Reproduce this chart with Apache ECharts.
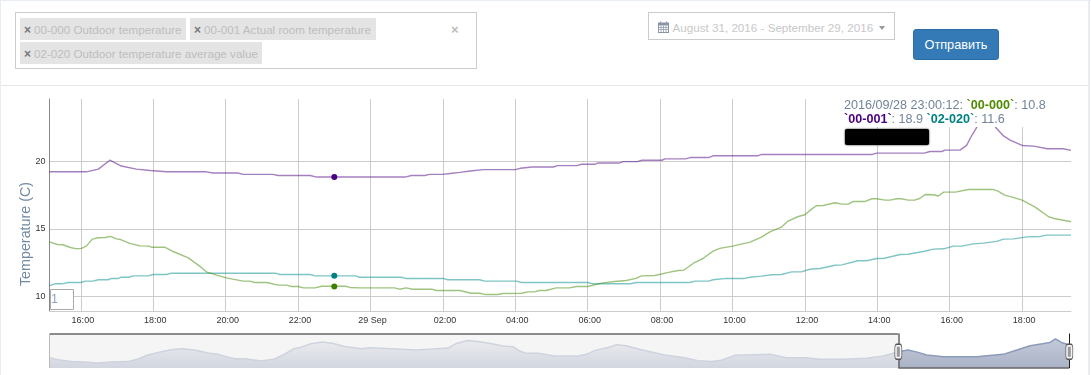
<!DOCTYPE html>
<html>
<head>
<meta charset="utf-8">
<title>Temperature</title>
<script src="https://cdn.jsdelivr.net/npm/echarts@6/dist/echarts.min.js"></script>
<style>
  html, body { margin: 0; padding: 0; background: #fff; }
  body { width: 1091px; height: 375px; overflow: hidden; position: relative; font-family: "Liberation Sans", Arial, sans-serif; }
  #chart { position: absolute; left: 0; top: 0; width: 1091px; height: 375px; }
  .frame { position: absolute; background: #e8ecf3; }
  .box { position: absolute; box-sizing: border-box; border: 1px solid #ccc; background: #fff; }
  .chip { position: absolute; height: 22px; line-height: 24px; background: #e4e4e4; color: #bdbdbd; font-size: 11.65px; padding-left: 14px; box-sizing: border-box; white-space: nowrap; }
  .chip b { position: absolute; left: 4px; top: 0; color: #777; font-size: 12px; }
  #clear { position: absolute; left: 451px; top: 22px; color: #bbb; font-size: 13px; font-weight: bold; }
  #range { position: absolute; left: 672.5px; top: 20px; color: #c8c8c8; font-size: 11.65px; line-height: 15px; white-space: nowrap; }
  #calendar { position: absolute; left: 658px; top: 21px; }
  #caret { position: absolute; left: 879px; top: 26px; width: 0; height: 0; border: 3.5px solid transparent; border-top: 4px solid #999; border-bottom: 0; }
  #send { position: absolute; left: 913px; top: 29px; width: 86px; height: 31px; box-sizing: border-box; background: #337ab7; border: 1px solid #2e6da4; border-radius: 3px; color: #fff; font: 12.7px "Liberation Sans", Arial, sans-serif; padding: 0; }
</style>
</head>
<body>
<div id="chart"></div>

<div class="frame" style="left:0;top:0;width:1091px;height:1px"></div>
<div class="frame" style="left:0;top:0;width:1px;height:375px"></div>
<div class="frame" style="left:1088px;top:0;width:2px;height:375px"></div>
<div class="frame" style="left:1px;top:85px;width:1087px;height:1px;background:#e7e7e7"></div>

<div class="box" style="left:15px;top:12px;width:462px;height:57px"></div>
<div class="chip" style="left:20px;top:18px;width:166px"><b>×</b>00-000 Outdoor temperature</div>
<div class="chip" style="left:190px;top:18px;width:186px"><b>×</b>00-001 Actual room temperature</div>
<div class="chip" style="left:20px;top:42px;width:242px"><b>×</b>02-020 Outdoor temperature average value</div>
<div id="clear">×</div>

<div class="box" style="left:648px;top:12px;width:247px;height:28px"></div>
<svg id="calendar" width="11" height="12" viewBox="0 0 11 12">
  <rect x="0.5" y="2" width="10" height="9.5" fill="none" stroke="#8a96a8"/>
  <rect x="0.5" y="2" width="10" height="2.5" fill="#8a96a8"/>
  <path d="M0.5 6.5h10M0.5 8.5h10M3 4.5v7M5.5 4.5v7M8 4.5v7" stroke="#8a96a8" stroke-width="0.7"/>
  <path d="M2.5 0.5v2M8.5 0.5v2" stroke="#8a96a8"/>
</svg>
<div id="range">August 31, 2016 - September 29, 2016</div>
<div id="caret"></div>
<button id="send">Отправить</button>

<script>
// main chart values: [day + time, temperature]
const roomTemp = [
  ["28T15:08",19.24],["28T16:09",19.24],["28T16:29",19.44],["28T16:48",20.1],["28T17:07",19.67],["28T17:32",19.44],
  ["28T17:55",19.34],["28T18:22",19.24],["28T19:28",19.24],["28T19:39",19.15],["28T20:20",19.15],["28T20:29",19.05],
  ["28T21:18",19.05],["28T21:27",18.97],["28T22:20",18.97],["28T22:31",18.85],["29T00:57",18.85],["29T01:08",18.97],
  ["29T01:30",18.97],["29T01:38",19.05],["29T02:00",19.05],["29T02:12",19.12],["29T02:28",19.2],["29T02:45",19.3],
  ["29T03:07",19.4],["29T04:00",19.4],["29T04:08",19.5],["29T04:28",19.6],["29T05:03",19.6],["29T05:10",19.7],
  ["29T05:42",19.7],["29T05:50",19.8],["29T06:12",19.8],["29T06:17",19.9],["29T06:53",19.9],["29T06:59",20.0],
  ["29T07:22",20.0],["29T07:30",20.1],["29T08:03",20.1],["29T08:08",20.2],["29T08:42",20.2],["29T08:50",20.3],
  ["29T09:20",20.3],["29T09:28",20.43],["29T10:42",20.43],["29T10:48",20.53],["29T13:52",20.53],["29T13:59",20.63],
  ["29T15:18",20.63],["29T15:27",20.75],["29T15:47",20.75],["29T15:52",20.85],["29T16:17",20.85],["29T16:28",21.2],
  ["29T16:36",21.9],["29T16:45",22.56],["29T17:00",23.8],["29T17:17",22.49],["29T17:28",21.95],["29T17:40",21.6],
  ["29T18:00",21.2],["29T18:19",21.15],["29T18:42",20.95],["29T19:08",20.95],["29T19:21",20.83]
];
const outdoorTemp = [
  ["28T15:08",14.04],["28T15:21",13.84],["28T15:30",13.82],["28T15:43",13.62],["28T15:53",13.52],["28T16:01",13.55],
  ["28T16:09",13.72],["28T16:19",14.24],["28T16:29",14.34],["28T16:40",14.36],["28T16:49",14.44],["28T16:59",14.26],
  ["28T17:07",14.19],["28T17:21",13.92],["28T17:38",13.74],["28T17:52",13.72],["28T17:57",13.64],["28T18:19",13.64],
  ["28T18:33",13.32],["28T18:58",12.85],["28T19:17",12.23],["28T19:28",11.81],["28T19:45",11.56],["28T20:01",11.36],
  ["28T20:29",11.12],["28T20:40",11.12],["28T20:48",11.02],["28T21:08",11.02],["28T21:27",10.82],["28T21:41",10.82],
  ["28T21:49",10.72],["28T22:00",10.72],["28T22:09",10.62],["28T22:28",10.62],["28T22:39",10.74],["28T23:18",10.74],
  ["28T23:26",10.65],["28T23:42",10.62],["29T00:40",10.62],["29T00:48",10.52],["29T00:59",10.62],["29T01:10",10.52],
  ["29T01:41",10.52],["29T01:49",10.42],["29T02:28",10.42],["29T02:47",10.22],["29T03:01",10.22],["29T03:09",10.13],
  ["29T03:31",10.13],["29T03:39",10.2],["29T04:10",10.22],["29T04:21",10.32],["29T04:32",10.32],["29T04:40",10.42],
  ["29T04:51",10.42],["29T05:08",10.62],["29T05:30",10.62],["29T05:41",10.72],["29T06:00",10.72],["29T06:25",10.99],
  ["29T06:45",11.09],["29T07:04",11.17],["29T07:20",11.32],["29T07:29",11.51],["29T07:51",11.54],["29T08:16",11.79],
  ["29T08:30",11.91],["29T08:39",11.93],["29T08:57",12.5],["29T09:11",12.8],["29T09:28",13.35],["29T09:39",13.55],
  ["29T10:00",13.72],["29T10:29",14.02],["29T10:48",14.39],["29T11:02",14.78],["29T11:21",15.13],["29T11:32",15.58],
  ["29T11:49",15.92],["29T12:00",16.05],["29T12:11",16.47],["29T12:19",16.72],["29T12:30",16.74],["29T12:50",16.94],
  ["29T13:01",16.84],["29T13:12",16.84],["29T13:20",17.04],["29T13:40",17.04],["29T13:51",17.24],["29T13:59",17.24],
  ["29T14:13",17.14],["29T14:21",17.14],["29T14:32",17.24],["29T14:40",17.24],["29T14:51",17.14],["29T15:02",17.14],
  ["29T15:10",17.26],["29T15:20",17.56],["29T15:33",17.54],["29T15:41",17.44],["29T15:50",17.73],["29T16:09",17.73],
  ["29T16:31",17.93],["29T17:12",17.93],["29T17:20",17.81],["29T17:31",17.51],["29T17:45",17.34],["29T18:00",17.14],
  ["29T18:21",16.64],["29T18:44",15.9],["29T18:55",15.75],["29T19:21",15.53]
];
const averageTemp = [
  ["28T15:08",10.79],["28T15:17",10.92],["28T15:29",10.92],["28T15:39",11.02],["28T16:00",11.02],["28T16:07",11.12],
  ["28T16:20",11.12],["28T16:29",11.22],["28T16:45",11.22],["28T16:51",11.32],["28T17:02",11.32],["28T17:07",11.41],
  ["28T17:19",11.41],["28T17:27",11.51],["28T17:52",11.51],["28T18:00",11.61],["28T18:22",11.61],["28T18:30",11.71],
  ["28T21:22",11.71],["28T21:30",11.61],["28T22:20",11.61],["28T22:28",11.51],["28T23:35",11.51],["28T23:42",11.41],
  ["29T00:51",11.41],["29T00:59",11.32],["29T02:00",11.32],["29T02:08",11.22],["29T03:01",11.22],["29T03:09",11.12],
  ["29T04:02",11.12],["29T04:10",11.02],["29T06:00",11.02],["29T06:09",10.92],["29T07:10",10.92],["29T07:21",11.02],
  ["29T08:49",11.02],["29T08:58",11.12],["29T09:20",11.12],["29T09:28",11.22],["29T09:50",11.32],["29T10:20",11.32],
  ["29T10:29",11.41],["29T10:48",11.49],["29T11:05",11.59],["29T11:21",11.61],["29T11:38",11.81],["29T11:54",11.81],
  ["29T12:08",12.0],["29T12:25",12.06],["29T12:50",12.3],["29T13:01",12.33],["29T13:28",12.63],["29T13:42",12.63],
  ["29T13:59",12.8],["29T14:10",12.8],["29T14:38",13.1],["29T14:51",13.12],["29T15:16",13.32],["29T15:33",13.5],
  ["29T15:50",13.52],["29T16:06",13.72],["29T16:20",13.72],["29T16:39",13.89],["29T16:56",13.94],["29T17:18",14.07],
  ["29T17:29",14.24],["29T17:46",14.26],["29T18:08",14.41],["29T18:30",14.44],["29T18:41",14.54],["29T19:21",14.54]
];
// navigator: [hours from the start of its range, temperature]
const overview = [
  [0,18.61],[1.4,18.11],[3.6,17.61],[5.8,17.52],[8,17.28],[10.3,17.52],[13,17.61],[14.7,18.28],[16.3,19.28],[18.6,20.11],
  [20.5,20.69],[21.9,20.86],[24.1,20.53],[26.3,19.78],[28,19.44],[30.7,18.36],[32.4,18.36],[35.2,17.78],[37.4,18.28],
  [39.1,19.53],[40.7,20.94],[41.5,21.11],[43.2,22.03],[45.4,22.53],[47.1,22.19],[49,21.44],[51.8,20.86],[53.2,21.11],
  [56,20.94],[60.9,20.53],[63.7,20.78],[66.2,21.03],[67.6,22.19],[69.5,22.94],[71.5,22.61],[73.7,22.03],[75.3,21.53],
  [77,21.36],[78.1,20.28],[79.2,19.69],[81.4,19.69],[83.9,19.03],[87.8,19.03],[89.2,19.44],[90.6,20.44],[92.8,21.19],
  [94.2,21.86],[95.8,21.61],[98.3,20.61],[102.2,19.28],[105.5,18.61],[107.7,17.86],[110,17.61],[111.6,17.94],[113.8,19.19],
  [115.5,19.28],[119.9,19.44],[122.4,18.61],[125.5,18.61],[128,18.19],[131.8,18.19],[135.7,18.44],[138.5,19.03],[141,20.11],
  [142.6,20.53],[144.3,19.94],[145.7,19.28],[148.5,18.86],[154,18.86],[158.4,19.44],[160.7,20.53],[162.9,21.61],
  [166.2,22.44],[167.1,23.36],[168.1,22.44],[169.4,21.78]
];
const timeTicks = [
  "28T16:00","28T18:00","28T20:00","28T22:00","29T00:00","29T02:00","29T04:00",
  "29T06:00","29T08:00","29T10:00","29T12:00","29T14:00","29T16:00","29T18:00"
];
const tempTicks = [10, 15, 20];
const windowStart = 141;
const overviewEnd = 169.4;
const hoverTime = "28T23:00";
const hoverRoom = 18.85;
const hoverOutdoor = 10.72;
const hoverAverage = 11.52;

const ts = (s) => new Date("2016-09-" + s + ":00").getTime();
const toSeries = (rows) => rows.map((r) => [ts(r[0]), r[1]]);
const pad2 = (n) => String(n).padStart(2, "0");

function lineSeries(name, rows, color, markerColor, hoverValue) {
  return {
    name,
    type: "line",
    data: toSeries(rows),
    showSymbol: false,
    silent: true,
    lineStyle: { width: 1.4, color, opacity: 0.5 },
    markPoint: {
      symbol: "circle",
      symbolSize: 6,
      silent: true,
      itemStyle: { color: markerColor },
      label: { show: false },
      data: [{ coord: [ts(hoverTime), hoverValue] }],
    },
  };
}

function handle(hour) {
  return [
    { coord: [hour, 20.1], symbol: "roundRect", symbolSize: [7, 15], itemStyle: { color: "#f2f2f2", borderColor: "#555", borderWidth: 1 } },
    { coord: [hour, 20.1], symbol: "rect", symbolSize: [3, 10], itemStyle: { color: "#999" } },
  ];
}

const chart = echarts.init(document.getElementById("chart"), null, { renderer: "canvas" });
chart.setOption({
  animation: false,
  textStyle: { fontFamily: "Liberation Sans, Arial, sans-serif" },
  grid: [
    { left: 49.5, right: 20, top: 99, height: 212 },
    { left: 49.5, width: 1019.8, top: 333.5, height: 34.5 },
  ],
  xAxis: [
    {
      // plain value axis holding timestamps: time axes choke on custom tick lists
      type: "value",
      gridIndex: 0,
      min: ts("28T15:08"),
      max: ts("29T19:21"),
      axisLine: { lineStyle: { color: "#ccc" } },
      axisTick: { show: false, customValues: timeTicks.map(ts) },
      splitLine: { show: true, lineStyle: { color: "#ccc" } },
      axisLabel: {
        customValues: timeTicks.map(ts),
        color: "#333",
        fontSize: 9,
        margin: 5,
        padding: [0, 0, 0, 4],
        hideOverlap: false,
        formatter: (v) => {
          const d = new Date(v);
          return d.getHours() === 0 ? d.getDate() + " Sep" : pad2(d.getHours()) + ":" + pad2(d.getMinutes());
        },
      },
    },
    { type: "value", gridIndex: 1, min: 0, max: overviewEnd, show: false },
  ],
  yAxis: [
    {
      type: "value",
      gridIndex: 0,
      min: 8.9,
      max: 24.65,
      name: "Temperature (C)",
      nameLocation: "middle",
      nameGap: 16,
      nameMoveOverlap: false,
      nameTextStyle: { color: "#708aa5", fontSize: 14.3, padding: [0, 58, 0, 0] },
      axisLine: { show: true, lineStyle: { color: "#888" } },
      axisTick: { show: false, customValues: tempTicks },
      axisLabel: { customValues: tempTicks, color: "#333", fontSize: 9, margin: 4 },
      splitLine: { show: true, lineStyle: { color: "#ccc" } },
    },
    { type: "value", gridIndex: 1, min: 16, max: 24.7, show: false },
  ],
  series: [
    lineSeries("00-001", roomTemp, "#4b0082", "#4b0082", hoverRoom),
    lineSeries("02-020", averageTemp, "#008b8b", "#008080", hoverAverage),
    lineSeries("00-000", outdoorTemp, "#3d8a00", "#3d8000", hoverOutdoor),
    {
      type: "line",
      xAxisIndex: 1,
      yAxisIndex: 1,
      data: overview.filter((p) => p[0] <= windowStart),
      showSymbol: false,
      silent: true,
      lineStyle: { width: 1.5, color: "#ced3de" },
      areaStyle: {
        opacity: 1,
        color: new echarts.graphic.LinearGradient(0, 0, 0, 1, [
          { offset: 0, color: "#eaebef" },
          { offset: 1, color: "#d2d6df" },
        ]),
      },
      z: 2,
      markArea: {
        silent: true,
        itemStyle: { color: "#f5f5f5" },
        data: [[{ coord: [0, 16] }, { coord: [windowStart, 24.7] }]],
      },
      markLine: {
        silent: true,
        symbol: "none",
        label: { show: false },
        lineStyle: { color: "#666", type: "solid", width: 1.5 },
        data: [
          [{ coord: [0, 24.7] }, { coord: [windowStart, 24.7] }],
          [{ coord: [windowStart, 24.7] }, { coord: [windowStart, 16] }],
          [{ coord: [windowStart, 16] }, { coord: [overviewEnd, 16] }],
          [{ coord: [overviewEnd, 24.7], lineStyle: { color: "#222", width: 1 } }, { coord: [overviewEnd, 16] }],
          [{ coord: [0, 24.7], lineStyle: { color: "#bbb", width: 1 } }, { coord: [0, 16] }],
        ],
      },
    },
    {
      type: "line",
      xAxisIndex: 1,
      yAxisIndex: 1,
      data: overview.filter((p) => p[0] >= windowStart),
      showSymbol: false,
      silent: true,
      lineStyle: { width: 1.5, color: "#8c9bbb" },
      areaStyle: {
        opacity: 1,
        color: new echarts.graphic.LinearGradient(0, 0, 0, 1, [
          { offset: 0, color: "#c3cad9" },
          { offset: 1, color: "#aab2c6" },
        ]),
      },
      z: 3,
      markPoint: {
        silent: true,
        z: 10,
        label: { show: false },
        data: handle(windowStart).concat(handle(overviewEnd)),
      },
    },
  ],
  graphic: [
    { type: "rect", z: 100, shape: { x: 843, y: 98, width: 228, height: 29 }, style: { fill: "#fff" } },
    { type: "rect", z: 101, shape: { x: 845, y: 129, width: 84, height: 16, r: 2 }, style: { fill: "#000", shadowBlur: 2, shadowColor: "#000" } },
    {
      type: "text",
      z: 102,
      x: 844,
      y: 99,
      style: {
        text: "2016/09/28 23:00:12: {g|`00-000`}: 10.8\n{p|`00-001`}: 18.9 {t|`02-020`}: 11.6",
        fill: "#72849a",
        fontSize: 12.6,
        lineHeight: 14,
        fontFamily: "Liberation Sans, Arial, sans-serif",
        rich: {
          g: { fill: "#4f8a00", fontWeight: "bold", fontSize: 12.6, lineHeight: 14 },
          p: { fill: "#4b0082", fontWeight: "bold", fontSize: 12.6, lineHeight: 14 },
          t: { fill: "#008080", fontWeight: "bold", fontSize: 12.6, lineHeight: 14 },
        },
      },
    },
    { type: "rect", z: 100, shape: { x: 50.5, y: 289.5, width: 23, height: 20 }, style: { fill: "#fff", stroke: "#aaa" } },
    { type: "text", z: 101, x: 51, y: 293, style: { text: "1", fill: "#8ba5c5", fontSize: 12.6, fontFamily: "Liberation Sans, Arial, sans-serif" } },
  ],
});
</script>
</body>
</html>
